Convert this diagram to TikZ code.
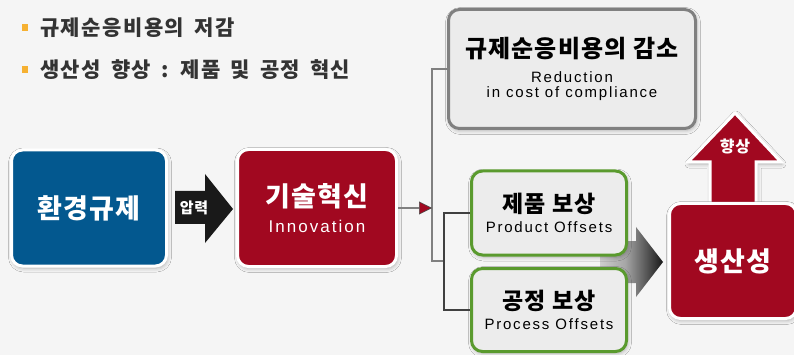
\documentclass[tikz,border=0pt]{standalone}
\usepackage{fontspec}
\setmainfont{Noto Sans CJK KR}
\newfontfamily\kor[LetterSpace=5]{Noto Sans CJK KR}
\newfontfamily\korwide[LetterSpace=7]{Noto Sans CJK KR}
\newfontfamily\lat[LetterSpace=12]{Liberation Sans}
\usepackage{xcolor}
\usepackage{tikz}
\usetikzlibrary{
	arrows.meta,shadows,shadows.blur
}

\definecolor{regblue}{RGB}{3,88,143}
\definecolor{innored}{RGB}{161,8,32}
\definecolor{boxgray}{RGB}{236,236,236}
\definecolor{edgegray}{RGB}{128,128,128}
\definecolor{offgreen}{RGB}{90,154,46}
\definecolor{dotorange}{RGB}{246,177,50}
\definecolor{textgray}{RGB}{51,51,51}
\definecolor{bggray}{RGB}{245,245,245}

\pgfdeclarehorizontalshading{push}{100bp}{color(0bp)=(white);
	color(45bp)=(black!35); color(80bp)=(black); color(100bp)=(black!75)}

\newcommand{\ksz}[1]{\fontsize{#1}{#1}\selectfont\kor\bfseries}
\newcommand{\lsz}[1]{\fontsize{#1}{#1}\selectfont\lat}
\newcommand{\widesp}{\spaceskip=10pt\relax}

\begin{document}
\begin{tikzpicture}[x=1pt,y=-1pt,
	box/.style={rounded corners=11pt,line width=3pt,inner sep=0pt,align=center,
		blur shadow={shadow xshift=1pt,shadow yshift=-2pt,shadow opacity=30,shadow blur radius=4pt}},
	darkbox/.style={box,draw=white,text=white},
	lightbox/.style={box,fill=boxgray,text=black},
	dot/.style={fill=dotorange,minimum width=6pt,minimum height=7pt,inner sep=0pt},
	point/.style={anchor=west,text=textgray,inner sep=0pt,
		font=\fontsize{21}{21}\selectfont\korwide\bfseries\widesp},
	tree/.style={draw=edgegray,line width=1.6pt},
	branch/.style={draw=black!75,line width=1.2pt}]
		\useasboundingbox (0,0) rectangle (794,355);
		\fill[bggray] (0,0) rectangle (794,355);
		%
		\node[dot] (d1) at (25,28) {};
		\node[dot] (d2) at (25,70) {};
		\node[point] (p1) at (40,28) {규제순응비용의 저감};
		\node[point] (p2) at (40,70) {생산성 향상 : 제품 및 공정 혁신};
		%
		\node[darkbox,fill=regblue,minimum width=155pt,minimum height=116pt] (env) at (89,208)
			{\ksz{27}환경규제};
		\node[darkbox,fill=innored,minimum width=159pt,minimum height=117pt] (inno) at (317,208)
			{\ksz{27}기술혁신\\[10pt]\lsz{17}Innovation};
		%
		\fill[black!90] (175,191) -- (205,191) -- (205,174) -- (233,209)
			-- (205,243) -- (205,224) -- (175,224) -- cycle;
		\node[text=white,font=\ksz{15}] (press) at (194,208) {압력};
		%
		\node[lightbox,draw=edgegray,minimum width=247pt,minimum height=119pt] (cost) at (572,69)
			{\ksz{24}규제순응비용의 감소\\[10pt]\lsz{15}Reduction\\[3pt]\lsz{15}in cost of compliance};
		%
		\shade[shading=push] (600,241) -- (636,241) -- (636,227) -- (663,262)
			-- (636,297) -- (636,283) -- (600,283) -- cycle;
		\node[lightbox,draw=offgreen,minimum width=155pt,minimum height=84pt] (prod) at (549,213)
			{\ksz{23}제품 보상\\[6pt]\lsz{15}Product Offsets};
		\node[lightbox,draw=offgreen,minimum width=155pt,minimum height=83pt] (proc) at (549,310)
			{\ksz{23}공정 보상\\[6pt]\lsz{15}Process Offsets};
		%
		\path[fill=innored,draw=white,line width=3pt,
			blur shadow={shadow xshift=1pt,shadow yshift=-2pt,shadow opacity=30,shadow blur radius=4pt}]
			(710,210) -- (710,162) -- (688,162) -- (735,113) -- (781,162) -- (756,162) -- (756,210) -- cycle;
		\node[text=white,font=\ksz{16}] (up) at (735,146) {향상};
		\node[darkbox,fill=innored,minimum width=127pt,minimum height=115pt] (prodty) at (733,261)
			{\ksz{27}생산성};
		%
		\coordinate (fork) at (432,208);
		\coordinate (bend) at (432,261);
		\coordinate (split) at (444,261);
		\draw[tree] (cost.west) -| (bend) -- (split);
		\draw[branch] (prod.west) -| (split) |- (proc.west);
		\draw[tree,-{Triangle[length=13pt,width=13pt,fill=innored,color=black!70,line width=0.6pt]}]
			(inno.east) -- (fork);
	\end{tikzpicture}
\end{document}
